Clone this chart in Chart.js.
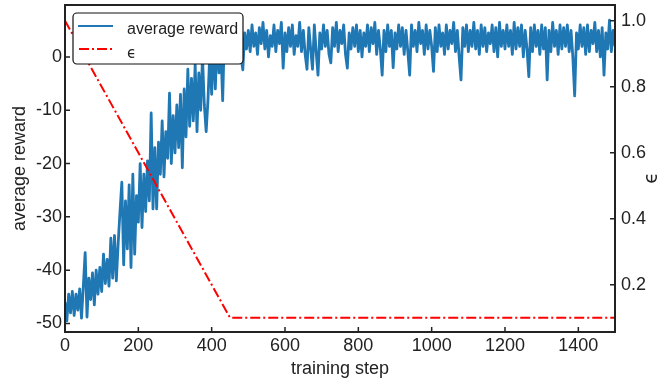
<!DOCTYPE html>
<html>
<head>
<meta charset="utf-8">
<script src="https://cdn.jsdelivr.net/npm/chart.js@4.4.1/dist/chart.umd.min.js"></script>
<style>
  html, body { margin: 0; padding: 0; background: #fff; }
  #wrap { width: 661px; height: 383px; }
</style>
</head>
<body>
<div id="wrap"><canvas id="rewardChart" width="661" height="383"></canvas></div>
<script>
// one reward sample every 5 training steps
const SAMPLE_EVERY = 5;
const avgReward = [
    // 0 - 95
    -46, -49.5, -44.5, -48, -44, -48.5, -44.5, -47.5, -43.5, -49, -43, -36.7, -48.8, -41.5, -45.5, -40.5, -46.5, -40, -44.5, -39.5,
    // 100 - 195
    -44, -37, -42.5, -38, -43, -34, -41.5, -33.5, -42, -35, -29, -23.5, -39, -27, -36, -24, -39.5, -22, -37, -26,
    // 200 - 295
    -31, -20, -32, -22, -29, -19.5, -27, -10.5, -28.5, -17, -28.5, -16, -22, -12, -22.5, -14, -19, -6.8, -20, -11,
    // 300 - 395
    -18, -9, -17, -7, -20.8, -6, -15, -2.3, -13, -4, -12, -1.3, -14, -3, -10, 0, -9, -14, -8, 1,
    // 400 - 495
    -7, 3, -6, 4, -3, 2, -8.2, 5, 0.5, 4, 1, 5.5, 0.5, 6, 1.5, 5, 0, -2.4, 4.5, 1.5,
    // 500 - 595
    5, 1, 6, 2, 4.5, 0.5, 5.5, 2.5, 6.5, 1.5, 5, 0, 4, 2, 6, 1, 5, 2.5, 6.5, -2.1,
    // 600 - 695
    4.5, 1, 5.5, 2, 6, 0.5, 4, 2, 6.5, 1, 5, 0.5, -2.3, 5.5, 1.5, -2.3, 6, 1, -3.4, 4.5,
    // 700 - 795
    1.5, 6, 2, 5, 0.5, -1.1, 5.5, 2, 6.5, 1, 5, 2.5, 6, 0.5, -2.1, 4.5, 1.5, 5.5, 2, 6,
    // 800 - 895
    1, 5, 0, 4.5, 2, 6, 1, 5.5, 2.5, 6.5, 0.5, 5, 1.5, -3.4, 5, 1, 6, 2, 5, -2,
    // 900 - 995
    4.5, 1.5, 6, 2, 5.5, 0.5, 5, 1, -3.4, 6, 2, 5, 1, 6.5, 2.5, 5, 0.5, 6, 1.5, 5,
    // 1000 - 1095
    2, -2.7, 5.5, 1, 6, 2, 4.5, 0.5, 6, 1.5, 5, 2.5, 6.5, 1, 5, 0, -4.3, 5.5, 2, 6,
    // 1100 - 1195
    1, 5, 2, 6.5, 1.5, 5, 0.5, 6, 2, 5.5, 1, 4.5, 2.5, 6, 1, 5.5, 0, 6.5, 2, 5,
    // 1200 - 1295
    1.5, 6, 2, 5, 0.5, 6.5, 1.5, 5.5, 2, 6, 0, 5, 1.5, -3.7, 5.5, 1, 6, 2, 5, 0.5,
    // 1300 - 1395
    6, 1.5, 5.5, -4.3, 5, 1, 6.5, 2, 5, 0.5, 6, 1.5, 5.5, 2, 6, 1, 5, 0, -7.3, 4.5,
    // 1400 - 1500
    1.5, 6, 2, 5.5, 0.5, 6, 1, 5, 2.5, 6.5, 1, 5, 0, 5.5, -3.4, 4.5, 1.5, 6.9, 1, 5,
    2
];

// epsilon schedule: linear decay then flat
const epsSteps = [0, 450, 1500];
const epsValues = [1.0, 0.1, 0.1];

const stepTicks = [0, 200, 400, 600, 800, 1000, 1200, 1400];
const rewardTicks = [-50, -40, -30, -20, -10, 0];
const epsTicks = [0.2, 0.4, 0.6, 0.8, 1.0];

const BLUE = '#1f77b4';
const RED = '#ff0000';
const INK = '#222222';
const FONT = '"Liberation Sans", Arial, sans-serif';
const EPS = '\u03F5';

const rewardPoints = avgReward.map((v, i) => ({ x: i * SAMPLE_EVERY, y: v }));
const epsPoints = epsSteps.map((s, i) => ({ x: s, y: epsValues[i] }));

// fixed axis sizes, no label overhang padding
function fixWidth(w) {
    return s => { s.width = w; s.paddingTop = 0; s.paddingBottom = 0; };
}

// inward ticks, box frame, legend on top of the data, right axis label
const framePlugin = {
    id: 'framePlugin',
    afterDraw(chart) {
        const { ctx, chartArea: a, scales } = chart;
        ctx.save();

        ctx.strokeStyle = INK;
        ctx.lineWidth = 1.5;
        ctx.beginPath();
        stepTicks.forEach(v => {
            const x = scales.x.getPixelForValue(v);
            ctx.moveTo(x, a.bottom);
            ctx.lineTo(x, a.bottom - 5);
        });
        rewardTicks.forEach(v => {
            const y = scales.y.getPixelForValue(v);
            ctx.moveTo(a.left, y);
            ctx.lineTo(a.left + 5, y);
        });
        epsTicks.forEach(v => {
            const y = scales.y1.getPixelForValue(v);
            ctx.moveTo(a.right, y);
            ctx.lineTo(a.right - 5, y);
        });
        ctx.stroke();

        ctx.lineWidth = 2;
        ctx.strokeRect(a.left, a.top, a.right - a.left, a.bottom - a.top);

        // legend box
        ctx.beginPath();
        ctx.roundRect(73, 13, 170, 51, 4);
        ctx.fillStyle = '#ffffff';
        ctx.fill();
        ctx.lineWidth = 1.2;
        ctx.strokeStyle = '#111';
        ctx.stroke();

        ctx.lineWidth = 2;
        ctx.strokeStyle = BLUE;
        ctx.beginPath();
        ctx.moveTo(78, 26);
        ctx.lineTo(113, 26);
        ctx.stroke();

        ctx.strokeStyle = RED;
        ctx.setLineDash([10, 3, 2, 3]);
        ctx.beginPath();
        ctx.moveTo(79, 49);
        ctx.lineTo(113, 49);
        ctx.stroke();
        ctx.setLineDash([]);

        ctx.fillStyle = INK;
        ctx.textAlign = 'left';
        ctx.textBaseline = 'middle';
        ctx.font = '16px ' + FONT;
        ctx.fillText('average reward', 127, 30);
        ctx.font = '15px "DejaVu Sans"';
        ctx.fillText(EPS, 127, 54);

        // right axis title, rotated counter-clockwise
        ctx.translate(652, 178);
        ctx.rotate(-Math.PI / 2);
        ctx.textAlign = 'center';
        ctx.font = '19px "DejaVu Sans"';
        ctx.fillText(EPS, 0, 0);

        ctx.restore();
    }
};

const tickFont = { family: FONT, size: 18 };

new Chart(document.getElementById('rewardChart'), {
    type: 'line',
    data: {
        datasets: [
            {
                label: EPS,
                data: epsPoints,
                yAxisID: 'y1',
                borderColor: RED,
                borderWidth: 2,
                borderDash: [10, 3, 2, 3],
                pointRadius: 0,
                tension: 0,
                order: 0
            },
            {
                label: 'average reward',
                data: rewardPoints,
                yAxisID: 'y',
                borderColor: BLUE,
                borderWidth: 2.8,
                borderJoinStyle: 'round',
                pointRadius: 0,
                tension: 0,
                order: 1
            }
        ]
    },
    options: {
        responsive: false,
        animation: false,
        layout: { padding: { top: 5, left: 0, right: 0, bottom: 0 } },
        plugins: {
            legend: { display: false },
            tooltip: { enabled: false }
        },
        scales: {
            x: {
                type: 'linear',
                min: 0,
                max: 1500,
                afterBuildTicks: s => { s.ticks = stepTicks.map(v => ({ value: v })); },
                afterFit: s => { s.height = 51; s.paddingLeft = 0; s.paddingRight = 0; },
                grid: { display: false, drawTicks: false },
                border: { display: false },
                ticks: { font: tickFont, color: INK, padding: 3, maxRotation: 0, autoSkip: false, callback: v => String(v) },
                title: { display: true, text: 'training step', font: tickFont, color: INK, padding: { top: 0, bottom: 3 } }
            },
            y: {
                position: 'left',
                min: -51.6,
                max: 9.75,
                afterBuildTicks: s => { s.ticks = rewardTicks.map(v => ({ value: v })); },
                afterFit: fixWidth(65),
                grid: { display: false, drawTicks: false },
                border: { display: false },
                ticks: { font: tickFont, color: INK, padding: 3, callback: v => String(v) },
                title: { display: true, text: 'average reward', font: tickFont, color: INK, padding: { top: 9, bottom: 0 } }
            },
            y1: {
                position: 'right',
                min: 0.0567,
                max: 1.0476,
                afterBuildTicks: s => { s.ticks = epsTicks.map(v => ({ value: v })); },
                afterFit: fixWidth(46),
                grid: { display: false, drawTicks: false },
                border: { display: false },
                ticks: { font: tickFont, color: INK, padding: 6, callback: v => v.toFixed(1) }
            }
        }
    },
    plugins: [framePlugin]
});
</script>
</body>
</html>
